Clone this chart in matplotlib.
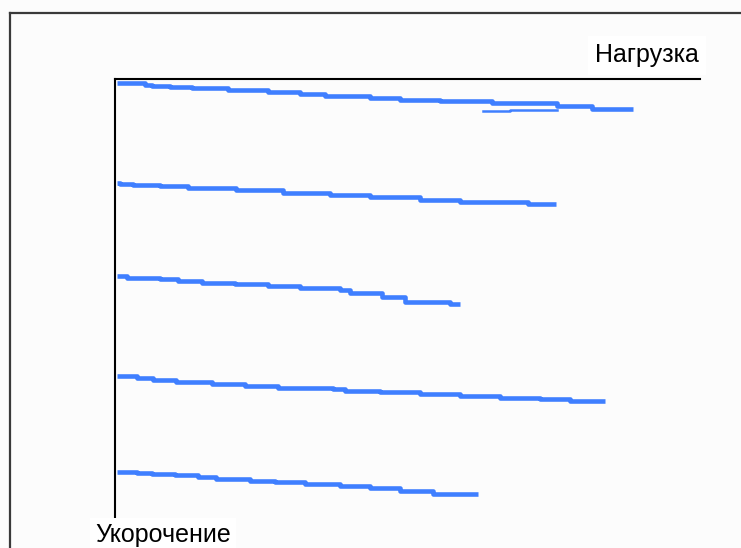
import matplotlib
matplotlib.use("Agg")
import matplotlib.pyplot as plt

plt.rcParams['font.family'] = ['Liberation Sans', 'DejaVu Sans']

# step curves (x = shortening, y = load, arbitrary units)
short1 = [2, 30, 37, 55, 77, 113, 153, 185, 210, 255, 285, 325, 377, 442, 477, 518]
load1 = [465, 463, 462, 461.5, 460, 458, 456, 454, 452, 450, 448, 447, 445, 442.5, 439.5, 439.5]
short1_tail = [368, 395, 442]
load1_tail = [437.5, 438.5, 438.5]

short2 = [2, 5, 18, 45, 73, 121, 168, 215, 255, 305, 345, 413, 441]
load2 = [365.5, 364, 363, 362.5, 360, 358, 355.5, 353.5, 351, 348.5, 346.5, 344, 344]

short3 = [2, 12, 45, 63, 87, 120, 153, 185, 225, 235, 267, 290, 335, 345]
load3 = [272, 270, 269, 267, 265.5, 264, 262, 260.5, 258, 255, 251, 246.5, 244, 244]

short4 = [2, 22, 38, 61, 97, 130, 163, 218, 230, 265, 305, 345, 385, 425, 455, 490]
load4 = [172, 170, 168, 166.5, 164.5, 162.5, 160.5, 159, 157.5, 156, 154, 152, 150.5, 149, 147, 147]

short5 = [2, 22, 37, 60, 83, 101, 135, 160, 190, 225, 255, 285, 318, 363]
load5 = [76.5, 75, 74, 73, 71, 69, 67.5, 66, 64, 62, 60, 57.5, 54.5, 54.5]

curves = [(short1, load1), (short2, load2), (short3, load3), (short4, load4), (short5, load5)]

W, H = 741, 548
fig = plt.figure(figsize=(W / 100, H / 100), dpi=100)
fig.patch.set_facecolor('#fcfcfc')

# outer frame (left and top only visible)
frame = fig.add_axes([10 / W, 0, 1, (H - 13) / H])
frame.set_facecolor('none')
for s in ['right', 'bottom']:
    frame.spines[s].set_visible(False)
for s in ['left', 'top']:
    frame.spines[s].set_linewidth(1.6)
    frame.spines[s].set_color('#3a3a3a')
frame.set_xticks([])
frame.set_yticks([])

# inner plot area
ax = fig.add_axes([115 / W, 0, (700 - 115) / W, (H - 79) / H])
ax.set_facecolor('none')
ax.set_xlim(0, 585)
ax.set_ylim(0, 469)
for s in ['right', 'bottom']:
    ax.spines[s].set_visible(False)
for s in ['left', 'top']:
    ax.spines[s].set_linewidth(1.5)
    ax.spines[s].set_color('black')
ax.set_xticks([])
ax.set_yticks([])

blue = '#3f7fff'
for xs, ys in curves:
    ax.plot(xs, ys, drawstyle='steps-post', color=blue, lw=3.3, solid_capstyle='butt')
ax.plot(short1_tail, load1_tail, drawstyle='steps-post', color=blue, lw=1.8)

fig.text(595 / W, 1 - 62 / H, 'Нагрузка', fontsize=18, va='baseline', ha='left',
         bbox=dict(facecolor='white', edgecolor='none', boxstyle='square,pad=0.3'))
fig.text(95 / W, 1 - 542 / H, 'Укорочение', fontsize=18, va='baseline', ha='left',
         bbox=dict(facecolor='white', edgecolor='none', boxstyle='square,pad=0.2'))

fig.savefig('out.png', dpi=100, facecolor=fig.get_facecolor())
